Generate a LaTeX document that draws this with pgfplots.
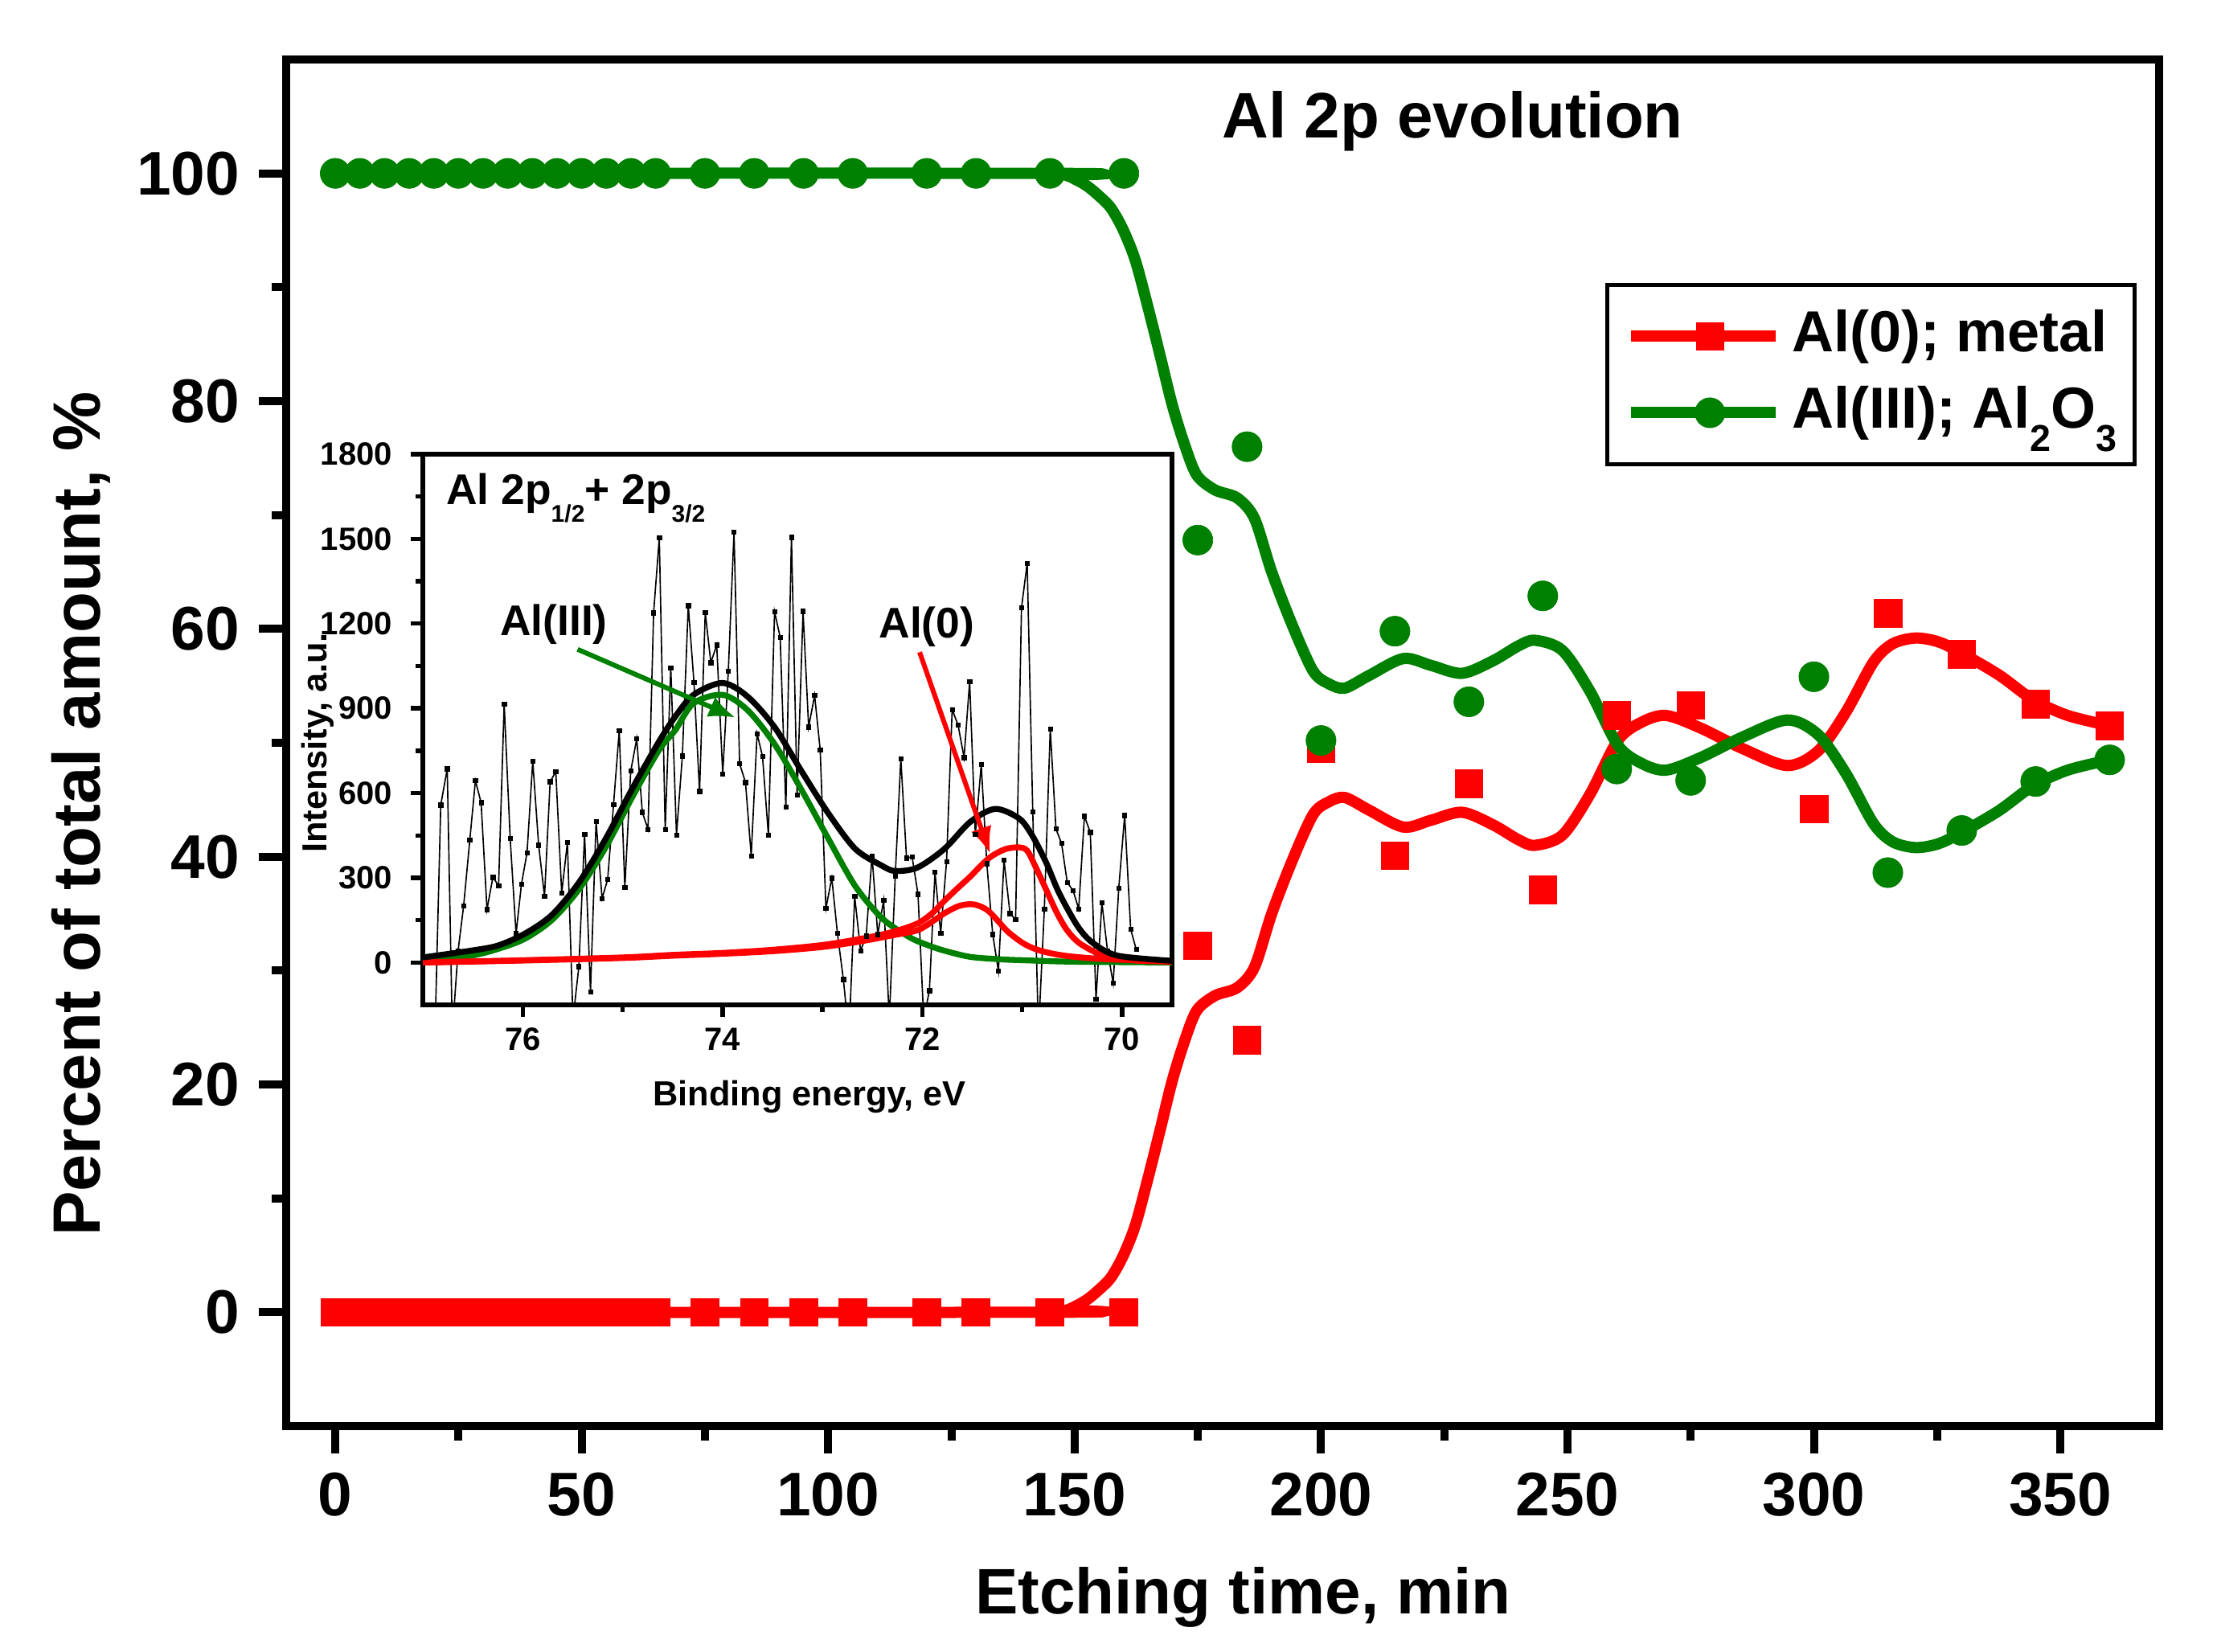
\documentclass[border=0pt]{standalone}
\usepackage{fontspec}
\setmainfont{Liberation Sans}
\usepackage{pgfplots}
\pgfplotsset{compat=1.18}
\usetikzlibrary{arrows.meta}
\definecolor{cred}{RGB}{255,0,0}
\definecolor{cgreen}{RGB}{0,128,0}

\pgfplotstableread{
E I
76.882 -300
76.821 558
76.756 686
76.705 -250
76.648 40
76.592 200
76.530 434
76.474 644
76.417 566
76.358 188
76.299 302
76.242 272
76.186 916
76.126 440
76.067 102
76.013 278
75.957 389
75.900 713
75.841 416
75.782 234
75.726 640
75.669 676
75.610 246
75.553 426
75.497 -200
75.438 -14
75.381 454
75.322 -104
75.266 500
75.206 227
75.150 294
75.091 560
75.034 821
74.978 266
74.919 678
74.859 792
74.803 532
74.746 472
74.690 1238
74.633 1504
74.574 472
74.518 1044
74.461 452
74.402 732
74.343 1264
74.286 992
74.230 606
74.173 1240
74.117 1062
74.058 1124
73.998 668
73.942 1032
73.885 1524
73.829 704
73.770 638
73.713 378
73.654 810
73.600 731
73.541 452
73.479 1242
73.423 1152
73.366 550
73.310 1506
73.253 594
73.194 1244
73.138 834
73.078 946
73.022 752
72.965 192
72.906 299
72.850 104
72.790 -60
72.734 -260
72.677 234
72.618 42
72.562 94
72.503 378
72.446 100
72.387 220
72.330 -200
72.271 306
72.215 722
72.158 370
72.102 374
72.043 242
71.986 -200
71.929 -100
71.873 320
71.816 104
71.757 358
71.701 896
71.642 841
71.582 726
71.526 995
71.469 454
71.410 701
71.354 350
71.295 100
71.238 -30
71.182 362
71.122 174
71.066 152
71.007 1256
70.950 1414
70.894 533
70.837 -250
70.778 190
70.719 827
70.662 473
70.606 422
70.549 284
70.490 254
70.434 190
70.377 518
70.318 461
70.261 -130
70.202 212
70.146 42
70.089 -73
70.033 264
69.974 521
69.914 118
69.858 46
}\rawdata

\begin{document}
\begin{tikzpicture}
\path[use as bounding box] (-53.36pt,-42pt) rectangle (360.34pt,266.1pt);
\begin{axis}[
  scale only axis, width=349.5pt, height=255pt,
  at={(0pt,0pt)}, anchor=south west,
  xmin=-10, xmax=370, ymin=-10, ymax=110,
  xtick={0,50,...,350}, ytick={0,20,...,100},
  minor x tick num=1, minor y tick num=1,
  xtick pos=bottom, ytick pos=left,
  tick align=outside,
  major tick length=5.1pt, minor tick length=2.7pt,
  every tick/.style={line width=1.5pt, black},
  axis line style={line width=1.5pt},
  ticklabel style={font=\fontsize{11.5}{13}\selectfont\bfseries},
  /pgf/number format/assume math mode=true,
  xlabel={Etching time, min},
  ylabel={Percent of total amount, \%},
  label style={font=\fontsize{12.5}{14}\selectfont\bfseries},
  xlabel style={at={(axis description cs:0.511,-0.1376)}, anchor=base, font=\fontsize{12}{14}\selectfont\bfseries},
  ylabel style={at={(axis description cs:-0.0992,0.448)}, anchor=base},
  legend style={at={(axis cs:257.6,90.4)}, anchor=north west, draw=black,
    line width=0.8pt, font=\fontsize{10.8}{13}\selectfont\bfseries,
    inner xsep=3.4pt, inner ysep=4pt, row sep=3pt,
    nodes={inner sep=0pt, text height=8.5pt, text depth=2.75pt},
    cells={anchor=west},
    /tikz/every odd column/.append style={column sep=2pt}},
  legend image code/.code={\path (0pt,0pt) -- (2.5pt,0pt);\draw[mark repeat=2,mark phase=2] plot coordinates {(2.5pt,0pt) (14.75pt,0pt) (27pt,0pt)};},
]
% red smooth curve
\addplot[cred, line width=2.1pt, smooth, forget plot] coordinates {
(0,0) (146,0) (148.5,0.2) (150.5,0.6) (152.5,1.1) (154.5,1.8) (157.3,3.0) (159.8,4.9) (162.3,7.6) (164.8,11.6)
(167.3,15.9) (169.8,20.3) (172.3,23.8) (174.8,26.5) (178.5,27.8) (183,28.5) (186.5,30.3) (190,35)
(194.2,39.7) (198.4,43.7) (201.5,44.8) (204.8,45.2) (209.7,44.1) (216.7,42.6) (222.3,43.2) (228.6,43.9)
(234.9,42.8) (240,41.5) (243.4,41.0) (249,41.9) (254.6,45.5) (260.2,50.2) (265,51.8) (270,52.4)
(277,51.3) (285.5,49.5) (294.6,48.0) (300.9,49.3) (306.5,52.7) (312.1,57.1) (316,58.7) (320.6,59.2)
(325,58.9) (329,58.1) (337.4,56.0) (344.4,53.8) (351.5,52.4) (360,51.5)};
% green smooth curve
\addplot[cgreen, line width=2.1pt, smooth, forget plot] coordinates {
(0,100) (146,100) (148.5,99.8) (150.5,99.4) (152.5,98.9) (154.5,98.2) (157.3,97.0) (159.8,95.1) (162.3,92.4) (164.8,88.4)
(167.3,84.1) (169.8,79.7) (172.3,76.2) (174.8,73.5) (178.5,72.2) (183,71.5) (186.5,69.7) (190,65)
(194.2,60.3) (198.4,56.3) (201.5,55.2) (204.8,54.8) (209.7,55.9) (216.7,57.4) (222.3,56.8) (228.6,56.1)
(234.9,57.2) (240,58.5) (243.4,59.0) (249,58.1) (254.6,54.5) (260.2,49.8) (265,48.2) (270,47.6)
(277,48.7) (285.5,50.5) (294.6,52.0) (300.9,50.7) (306.5,47.3) (312.1,42.9) (316,41.3) (320.6,40.8)
(325,41.1) (329,41.9) (337.4,44.0) (344.4,46.2) (351.5,47.6) (360,48.5)};
% red points
\addplot[only marks, mark=square*, mark size=2.6pt, color=cred, mark options={line width=0.1pt}, forget plot] coordinates {
(0,0) (5,0) (10,0) (15,0) (20,0) (25,0) (30,0) (35,0) (40,0) (45,0) (50,0) (55,0) (60,0) (65,0)
(75,0) (85,0) (95,0) (105,0) (120,0) (130,0) (145,0) (160,0)
(175,32.2) (185,23.9) (200,49.5) (215,40.1) (230,46.4) (245,37.1) (260,52.4) (275,53.3)
(300,44.2) (315,61.4) (330,57.8) (345,53.4) (360,51.5)};
% green points
\addplot[only marks, mark=*, mark size=2.8pt, color=cgreen, mark options={line width=0.1pt}, forget plot] coordinates {
(0,100) (5,100) (10,100) (15,100) (20,100) (25,100) (30,100) (35,100) (40,100) (45,100) (50,100) (55,100) (60,100) (65,100)
(75,100) (85,100) (95,100) (105,100) (120,100) (130,100) (145,100) (160,100)
(175,67.8) (185,76.0) (200,50.2) (215,59.8) (230,53.6) (245,62.9) (260,47.7) (275,46.7)
(300,55.8) (315,38.6) (330,42.3) (345,46.6) (360,48.5)};
\addlegendimage{cred, line width=2.1pt, mark=square*, mark size=2.6pt, mark options={line width=0.1pt}}
\addlegendentry{Al(0); metal}
\addlegendimage{cgreen, line width=2.1pt, mark=*, mark size=2.8pt, mark options={line width=0.1pt}}
\addlegendentry{Al(III); Al\raisebox{-4.3pt}{\fontsize{7}{7}\selectfont 2}O\raisebox{-4.3pt}{\fontsize{7}{7}\selectfont 3}}
\node[anchor=base east, font=\fontsize{12}{14}\selectfont\bfseries] at (axis cs:277.3,103.15) {Al 2p evolution};
\end{axis}

\begin{axis}[
  at={(25.55pt,78.6pt)}, anchor=south west,
  scale only axis, width=139.8pt, height=102.75pt,
  x dir=reverse, xmin=69.5, xmax=77, ymin=-150, ymax=1800,
  xtick={70,72,74,76}, ytick={0,300,...,1800},
  minor x tick num=1, minor y tick num=1,
  xtick pos=bottom, ytick pos=left, tick align=outside,
  major tick length=2.2pt, minor tick length=1.3pt,
  every tick/.style={line width=0.8pt, black},
  axis line style={line width=0.8pt},
  ticklabel style={font=\fontsize{6}{7}\selectfont\bfseries},
  xticklabel style={yshift=1.4pt},
  /pgf/number format/assume math mode=true,
  /pgf/number format/1000 sep={},
  xlabel={Binding energy, eV},
  ylabel={Intensity, a.u.},
  label style={font=\fontsize{6.5}{7.5}\selectfont\bfseries},
  xlabel style={at={(axis description cs:0.516,-0.1825)}, anchor=base},
  ylabel style={at={(axis description cs:-0.128,0.476)}, anchor=base},
]
\addplot[black, line width=0.25pt, mark=square*, mark size=0.4pt, mark options={line width=0.1pt}] table[x=E, y=I] {\rawdata};
\addplot[cgreen, line width=1.1pt, smooth] coordinates {
(77.0,6) (76.52,24) (76.25,48) (75.98,84) (75.71,150) (75.44,258) (75.17,408) (74.9,588) (74.64,750)
(74.475,822) (74.29,918) (74.0,948) (73.75,894) (73.48,774) (73.21,612) (72.94,438) (72.67,270)
(72.4,156) (72.13,90) (71.95,62) (71.78,42) (71.52,20) (71.2,11) (70.98,8) (70.5,3) (69.5,0)};
\addplot[cred, line width=1.1pt, smooth] coordinates {
(77.0,0) (76.0,7) (75.0,16) (74.5,24) (74.0,31) (73.5,40) (73.0,55) (72.6,76) (72.3,96) (72.05,114)
(71.9,145) (71.78,174) (71.65,198) (71.55,206) (71.46,204) (71.35,186) (71.25,150) (71.14,108)
(70.98,66) (70.82,42) (70.57,24) (70.17,12) (69.5,4)};
\addplot[cred, line width=1.1pt, smooth] coordinates {
(77.0,0) (76.0,8) (75.0,18) (74.5,27) (74.0,34) (73.5,45) (73.0,62) (72.6,85) (72.3,108) (72.05,138)
(71.9,175) (71.78,218) (71.65,262) (71.515,306) (71.4,348) (71.3,378) (71.165,402) (71.03,408)
(70.95,396) (70.87,342) (70.76,258) (70.65,174) (70.55,114) (70.44,72) (70.3,42) (70.17,24) (69.9,8) (69.5,3)};
\addplot[black, line width=1.1pt, smooth] coordinates {
(77.0,18) (76.52,42) (76.25,60) (75.98,102) (75.71,168) (75.44,282) (75.17,438) (74.9,618) (74.64,780)
(74.475,870) (74.29,948) (74.0,990) (73.75,942) (73.48,834) (73.21,678) (72.94,528) (72.67,402)
(72.4,342) (72.27,324) (72.05,336) (71.78,402) (71.52,498) (71.27,544) (71.03,510) (70.9,450)
(70.76,354) (70.63,246) (70.44,126) (70.28,66) (70.04,24) (69.5,6)};
\draw[cgreen, line width=0.9pt, -{Latex[length=5pt,width=4pt]}] (axis cs:75.451,1109) -- (axis cs:73.869,867);
\draw[cred, line width=0.9pt, -{Latex[length=5pt,width=4pt]}] (axis cs:72.027,1099) -- (axis cs:71.321,385);
\node[anchor=base, font=\fontsize{8}{9}\selectfont\bfseries] at (axis cs:75.689,1159) {Al(III)};
\node[anchor=base, font=\fontsize{8}{9}\selectfont\bfseries] at (axis cs:71.956,1150) {Al(0)};
\node[anchor=base west, inner sep=0pt, font=\fontsize{8}{9}\selectfont\bfseries] at (axis cs:76.775,1621) {Al 2p\raisebox{-3.2pt}{\fontsize{4.5}{5}\selectfont 1/2}+ 2p\raisebox{-3.2pt}{\fontsize{4.5}{5}\selectfont 3/2}};
\end{axis}
\end{tikzpicture}
\end{document}
